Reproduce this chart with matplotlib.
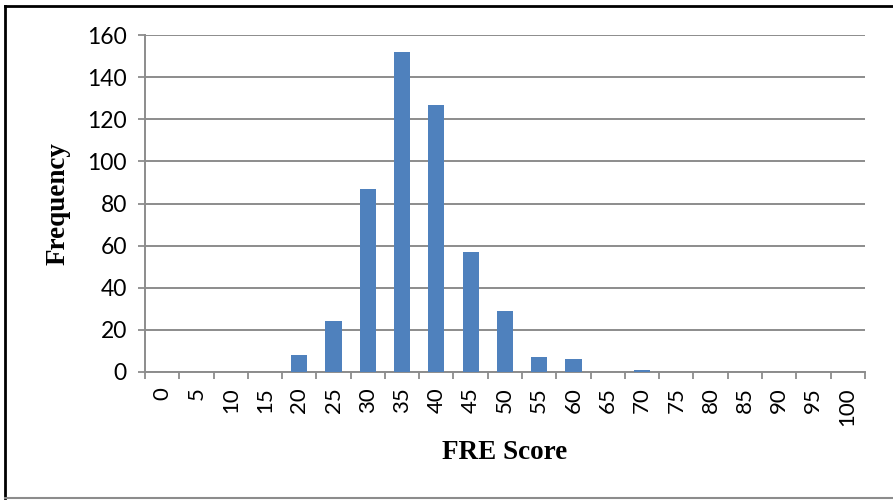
import matplotlib.pyplot as plt
from matplotlib.lines import Line2D
import numpy as np

scores = [0, 5, 10, 15, 20, 25, 30, 35, 40, 45, 50,
          55, 60, 65, 70, 75, 80, 85, 90, 95, 100]
frequency = [0, 0, 0, 0, 8, 24, 87, 152, 127, 57, 29,
             7, 6, 0, 1, 0, 0, 0, 0, 0, 0]

fig = plt.figure(figsize=(8.93, 5.0), dpi=100)
ax = fig.add_axes([0.1624, 0.256, 0.806, 0.674])

x = np.arange(len(scores))
ax.bar(x, frequency, width=0.47, color='#4f81bd', zorder=3)

ax.set_xlim(-0.5, len(scores) - 0.5)
ax.set_ylim(0, 160)
ax.set_yticks(range(0, 161, 20))
ax.set_xticks(x)
ax.set_xticklabels([str(s) for s in scores], rotation=90, fontsize=16, family='Lato')
ax.set_xticks(np.arange(-0.5, len(scores), 1), minor=True)
ax.tick_params(axis='x', which='major', length=0, pad=11)
ax.tick_params(axis='x', which='minor', length=5, width=1.3, color='#8c8c8c')
ax.tick_params(axis='y', length=5, width=1.3, color='#8c8c8c', labelsize=16.5, pad=8)
for lab in ax.get_yticklabels():
    lab.set_family('Lato')

ax.grid(axis='y', color='#8c8c8c', linewidth=1.4, zorder=0)
for side in ['top', 'right']:
    ax.spines[side].set_visible(False)
for side in ['left', 'bottom']:
    ax.spines[side].set_color('#8c8c8c')
    ax.spines[side].set_linewidth(1.4)

ax.set_xlabel('FRE Score', family='Liberation Serif', fontweight='bold', fontsize=19.5, labelpad=10)
ax.set_ylabel('Frequency', family='Liberation Serif', fontweight='bold', fontsize=19.5, labelpad=12)

# outer frame
fig.add_artist(Line2D([0.006, 0.006], [0.004, 0.988], color='black', linewidth=2, transform=fig.transFigure))
fig.add_artist(Line2D([0.006, 1.0], [0.988, 0.988], color='black', linewidth=2, transform=fig.transFigure))
fig.add_artist(Line2D([0.006, 1.0], [0.005, 0.005], color='#8c8c8c', linewidth=1.5, transform=fig.transFigure))

fig.savefig('out.png', dpi=100)
